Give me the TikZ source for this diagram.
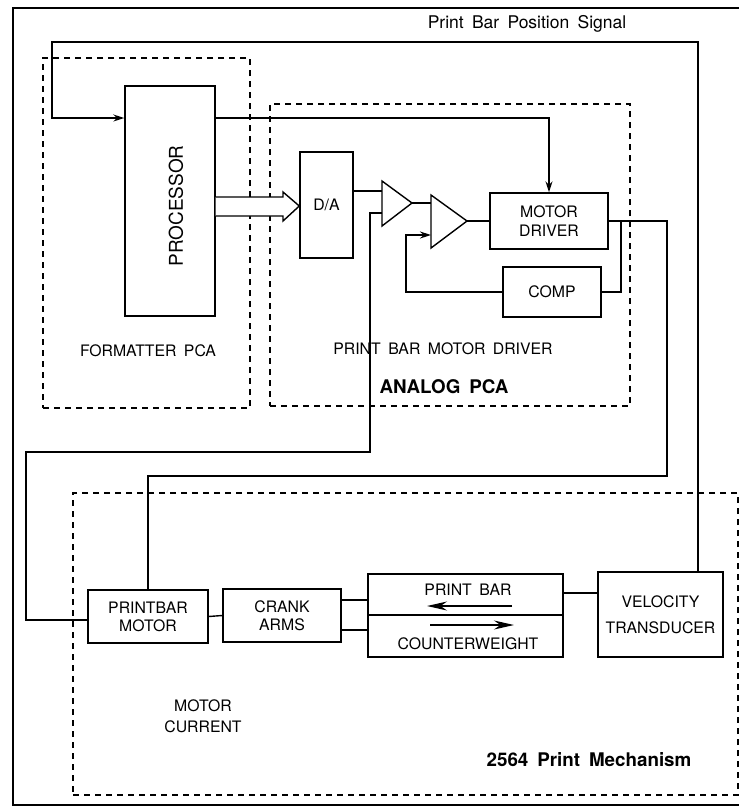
\documentclass[tikz,border=0pt]{standalone}
\usepackage{fontspec}
\setmainfont{TeX Gyre Heros}[WordSpace=1.7]
\usetikzlibrary{arrows.meta}
\newcommand{\lblfont}{\fontsize{15.8}{19}\selectfont}
\newcommand{\bldfont}{\fontsize{18.8}{22}\selectfont\bfseries}
\begin{document}
\begin{tikzpicture}[x=1pt,y=-1pt,
  wire/.style={line width=1.4pt},
  box/.style={draw,line width=1.4pt,fill=white,inner sep=0pt,align=center,font=\lblfont},
  dbox/.style={draw,line width=1.2pt,dash pattern=on 6pt off 5pt,inner sep=0pt},
  lbl/.style={inner sep=0pt,align=center,font=\lblfont},
  blbl/.style={inner sep=0pt,align=center,font=\bldfont},
  arr/.style={-{Stealth[length=11pt,width=7pt]}},
  bigarr/.style={line width=1.5pt,-{Stealth[length=20pt,width=9pt]}}]
\useasboundingbox (0,0) rectangle (739,807);
% outer frame
\draw[line width=1.6pt] (739,8) -- (13,8) -- (13,805) -- (739,805);
% dashed groups
\node[dbox,minimum width=207pt,minimum height=350pt] (fmt) at (146.5,233) {};
\node[dbox,minimum width=360pt,minimum height=302pt] (ana) at (450,255) {};
\node[dbox,minimum width=665pt,minimum height=302pt] (mech) at (405.5,644) {};
% boxes
\node[box,minimum width=90pt,minimum height=230pt] (proc) at (170,201) {};
\node[lbl,rotate=90,font=\fontsize{19}{22}\selectfont] (proclbl) at (176,206) {PROCESSOR};
\node[box,minimum width=53pt,minimum height=106pt] (da) at (326.5,205) {D/A};
\node[box,minimum width=118pt,minimum height=56pt] (md) at (549,221) {MOTOR\\DRIVER};
\node[box,minimum width=98pt,minimum height=50pt] (comp) at (552,292) {COMP};
\node[box,minimum width=120pt,minimum height=53pt] (pbm) at (148,616.5) {PRINTBAR\\[-1pt]MOTOR};
\node[box,minimum width=118pt,minimum height=53pt] (crank) at (282,615.5) {CRANK\\[-1pt]ARMS};
\node[box,minimum width=195pt,minimum height=41pt] (pb) at (465.5,594.5) {};
\node[box,minimum width=195pt,minimum height=42pt] (cw) at (465.5,636) {};
\node[box,minimum width=125pt,minimum height=85pt] (vel) at (660.5,614.5) {VELOCITY\\[7pt]TRANSDUCER};
\node[lbl] (pbtxt) at (468,590) {PRINT BAR};
\node[lbl] (cwtxt) at (468,644) {COUNTERWEIGHT};
\coordinate (pbA) at (512,606); \coordinate (pbB) at (427,606);
\coordinate (cwA) at (430,625); \coordinate (cwB) at (514,625);
\draw[bigarr] (pbA) -- (pbB);
\draw[bigarr] (cwA) -- (cwB);
% amplifiers
\coordinate (a1tl) at (382,181); \coordinate (a1bl) at (382,226); \coordinate (a1tip) at (412,203);
\coordinate (a1in1) at (382,191); \coordinate (a1in2) at (382,213);
\coordinate (a2tl) at (431,195); \coordinate (a2bl) at (431,248); \coordinate (a2tip) at (467,221);
\coordinate (a2in1) at (431,203); \coordinate (a2in2) at (431,235);
\draw[wire,fill=white] (a1tl) -- (a1tip) -- (a1bl) -- cycle;
\draw[wire,fill=white] (a2tl) -- (a2tip) -- (a2bl) -- cycle;
% texts
\node[lbl,font=\fontsize{17.5}{20}\selectfont] (sigtxt) at (527,24) {Print Bar Position Signal};
\node[lbl] (fmttxt) at (148,351) {FORMATTER PCA};
\node[lbl] (pbmdtxt) at (443,349) {PRINT BAR MOTOR DRIVER};
\node[blbl] (anatxt) at (444,387) {ANALOG PCA};
\node[lbl,font=\fontsize{15.8}{21}\selectfont] (mctxt) at (203,716) {MOTOR\\CURRENT};
\node[blbl] (mechtxt) at (589,760) {2564 Print Mechanism};
% connectors
\draw[wire,arr] ([xshift=37.5pt]vel.north) -- (698,42) -- (52,42) -- (52,118) -- (proc.west |- 0,118);
\draw[wire,arr] (proc.east |- 0,118) -| (md.north);
\draw[wire,fill=white] (proc.east |- 0,197) -- (283,197) -- (283,192) -- (da.west |- 0,206) -- (283,221) -- (283,216) -- (proc.east |- 0,216);
\draw[wire] (da.east |- a1in1) -- (a1in1);
\draw[wire] (a1tip) -- (a2in1);
\draw[wire] (a2tip) -- (md.west);
\draw[wire] (md.east) -- (667,221) -- (667,476) -- (148,476) -- (pbm.north);
\draw[wire] (621,221) |- (comp.east);
\draw[wire,arr] (comp.west) -| (406,235) -- (a2in2);
\draw[wire] (a1in2) -- (370,213) -- (370,452) -- (26,452) -- (26,620) -- (pbm.west |- 0,620);
\draw[wire] (pbm.east) -- (crank.west);
\draw[wire] (crank.east |- 0,600) -- (pb.west |- 0,600);
\draw[wire] (crank.east |- 0,630) -- (cw.west |- 0,630);
\draw[wire] (pb.east |- 0,593) -- (vel.west |- 0,593);
\end{tikzpicture}
\end{document}
